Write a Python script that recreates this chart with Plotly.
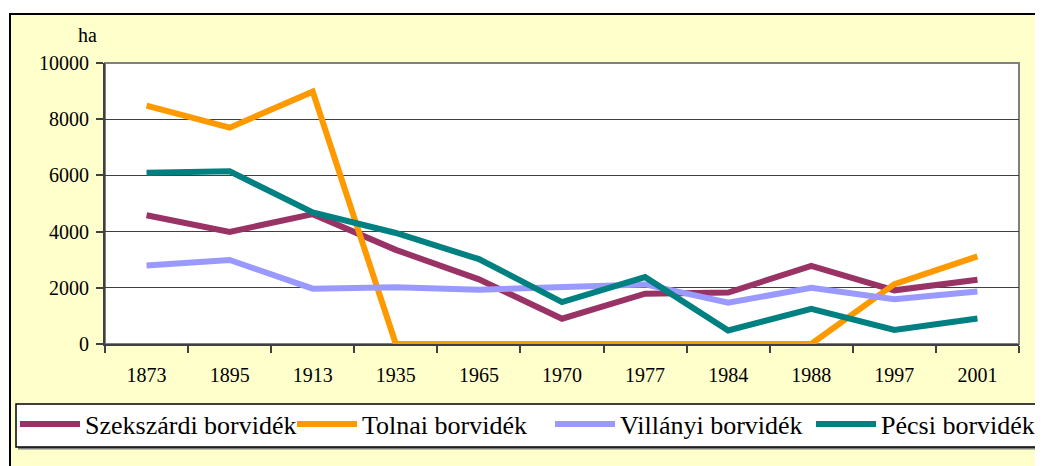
import plotly.graph_objects as go

years = ["1873", "1895", "1913", "1935", "1965", "1970", "1977", "1984", "1988", "1997", "2001"]
szekszardi = [4580, 3990, 4620, 3350, 2300, 900, 1790, 1830, 2780, 1910, 2290]
tolnai = [8480, 7700, 8980, 0, 0, 0, 0, 0, 0, 2130, 3120]
villanyi = [2790, 2990, 1970, 2020, 1930, 2020, 2120, 1470, 2000, 1590, 1870]
pecsi = [6090, 6150, 4680, 3950, 3020, 1490, 2380, 480, 1250, 500, 910]

series_names = ["Szekszárdi borvidék", "Tolnai borvidék", "Villányi borvidék", "Pécsi borvidék"]
series_values = [szekszardi, tolnai, villanyi, pecsi]
colors = ["#993366", "#FF9900", "#9999FF", "#008080"]

# page body has an 8px margin: design in window pixels, convert to figure pixels
OFF = 8
WIN_W, WIN_H = 1043, 466
W, H = WIN_W - OFF, WIN_H - OFF
# plot area in window pixels
L, R, T, B = 105, 1019, 63, 344
FONT = "Liberation Serif, Times New Roman, serif"


def px(x):
    return (x - L) / (R - L)


def py(y):
    return (B - y) / (B - T)


legend_ids = ["legend", "legend2", "legend3", "legend4"]
legend_text_x = [85, 362, 620, 881]   # window x where each legend text starts

fig = go.Figure()
for name, vals, c, lid in zip(series_names, series_values, colors, legend_ids):
    fig.add_trace(go.Scatter(x=years, y=vals, name=name, mode="lines", legend=lid,
                             line=dict(color=c, width=6), cliponaxis=False))

shapes = [
    # yellow chart area
    dict(type="rect", xref="paper", yref="paper", x0=px(10), x1=px(1080), y0=py(500), y1=py(14),
         fillcolor="#FFFFCC", line=dict(color="black", width=2), layer="below"),
    # white plot area with grey border
    dict(type="rect", xref="paper", yref="paper", x0=0, x1=1, y0=0, y1=1,
         fillcolor="white", line=dict(color="#808080", width=2), layer="below"),
    # legend shadow
    dict(type="rect", xref="paper", yref="paper", x0=px(18), x1=px(1043), y0=py(449.5), y1=py(406),
         fillcolor="#808080", line=dict(width=0), layer="below"),
    # legend box
    dict(type="rect", xref="paper", yref="paper", x0=px(16), x1=px(1041), y0=py(447), y1=py(404),
         fillcolor="white", line=dict(color="black", width=1.5), layer="below"),
]

legends = {}
for lid, tx in zip(legend_ids, legend_text_x):
    legends[lid] = dict(orientation="h", x=px(tx - 70), y=py(424), xanchor="left", yanchor="middle",
                        bgcolor="rgba(0,0,0,0)", borderwidth=0, itemwidth=60,
                        font=dict(family=FONT, size=26, color="black"))

fig.update_layout(
    width=W, height=H,
    margin=dict(l=L - OFF, r=WIN_W - R, t=T - OFF, b=WIN_H - B, autoexpand=False),
    paper_bgcolor="white", plot_bgcolor="white",
    font=dict(family=FONT, size=20, color="black"),
    showlegend=True,
    shapes=shapes,
    annotations=[dict(text="ha", xref="paper", yref="paper", x=px(87), y=py(35),
                      xanchor="center", yanchor="middle",
                      showarrow=False, font=dict(family=FONT, size=20, color="black"))],
    xaxis=dict(type="category", range=[-0.5, 10.5], tickson="boundaries", ticks="outside", ticklen=7,
               tickcolor="#404040", tickwidth=1.5, showline=True, linecolor="#404040", linewidth=2,
               showgrid=False, layer="below traces", ticklabelstandoff=12,
               tickfont=dict(family=FONT, size=20, color="black")),
    yaxis=dict(range=[0, 10000], dtick=2000, tickformat="d", ticks="outside", ticklen=7, tickcolor="#404040",
               tickwidth=1.5, showline=True, linecolor="#404040", linewidth=2,
               showgrid=True, gridcolor="#404040", gridwidth=1, zeroline=False,
               layer="below traces", ticklabelstandoff=3,
               tickfont=dict(family=FONT, size=20, color="black")),
    **legends,
)

fig.write_html("out.html")
